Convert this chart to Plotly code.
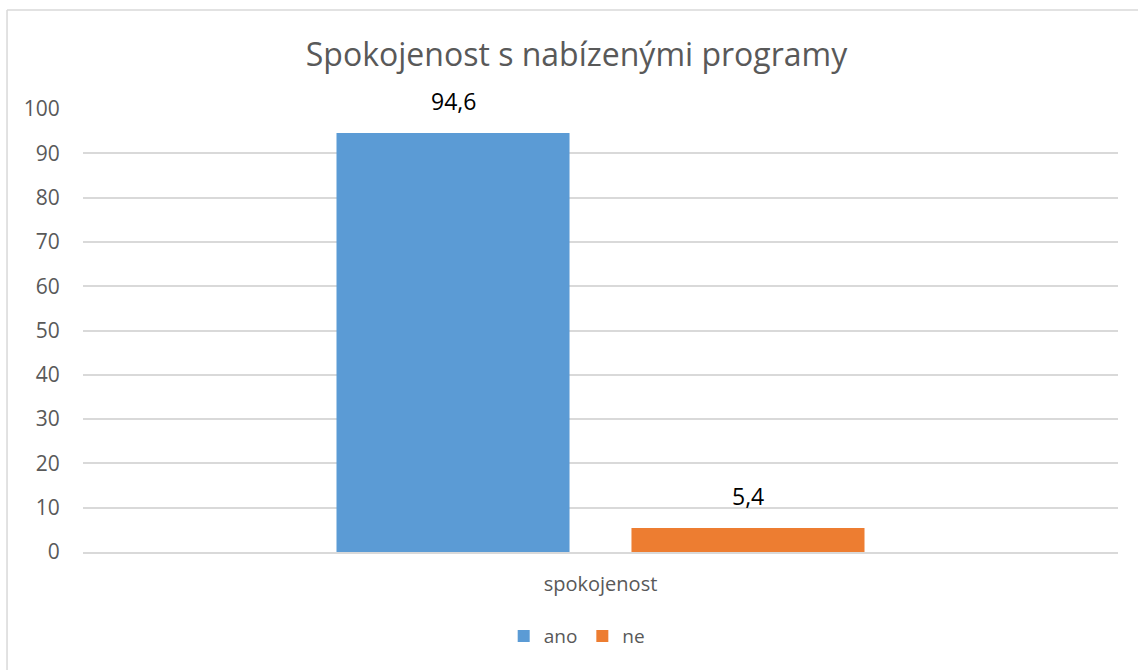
import plotly.graph_objects as go

categories = ["spokojenost"]
series_names = ["ano", "ne"]
ano_values = [94.6]
ne_values = [5.4]
colors = ["#5B9BD5", "#ED7D31"]
title_text = "Spokojenost s nabízenými programy"
y_ticks = list(range(0, 101, 10))

FONT = "Open Sans, Liberation Sans, sans-serif"
W, H = 1138, 670
ML, MR, MT, MB = 83, 20, 109, 118
BARGAP, GROUPGAP = 0.43, 0.21
plot_w = W - ML - MR
slot_px = (1 - BARGAP) * plot_w / 2

fig = go.Figure()
series = [ano_values, ne_values]
for i, (name, vals, col) in enumerate(zip(series_names, series, colors)):
    fig.add_trace(go.Bar(
        name=name, x=categories, y=vals, marker=dict(color=col, line=dict(width=0)),
    ))
    shift = (i - (len(series) - 1) / 2) * slot_px
    for c, v in zip(categories, vals):
        fig.add_annotation(x=c, y=v, text=f"{v:.1f}".replace(".", ","), showarrow=False,
                           xshift=shift, yshift=14, yanchor="bottom",
                           font=dict(family=FONT, size=23, color="#000000"))

border = dict(color="#D9D9D9", width=1.5)
fig.update_layout(
    width=W, height=H,
    margin=dict(l=ML, r=MR, t=MT, b=MB),
    paper_bgcolor="white", plot_bgcolor="white",
    separators=", ",
    barmode="group", bargap=BARGAP, bargroupgap=GROUPGAP,
    title=dict(text=title_text, x=0.5066, xanchor="center", y=0.918, yanchor="middle",
               font=dict(family=FONT, size=32, color="#595959")),
    font=dict(family=FONT, color="#595959"),
    showlegend=True,
    legend=dict(orientation="h", x=0.477, xanchor="center", y=-0.19, yanchor="middle",
                font=dict(family=FONT, size=19, color="#595959"), itemwidth=30,
                traceorder="normal"),
    shapes=[
        dict(type="line", xref="paper", yref="paper", x0=-0.0734, x1=1.1, y0=1.2235, y1=1.2235,
             line=border, layer="below"),
        dict(type="line", xref="paper", yref="paper", x0=-0.0734, x1=-0.0734, y0=-0.4, y1=1.2235,
             line=border, layer="below"),
    ],
)
fig.update_yaxes(range=[0, 100], tickvals=y_ticks, showgrid=True, gridcolor="#D9D9D9", gridwidth=1.5,
                 zeroline=False, showline=False, ticks="outside", ticklen=18, tickcolor="rgba(0,0,0,0)",
                 tickfont=dict(family=FONT, size=21, color="#595959"), fixedrange=True)
fig.update_xaxes(showgrid=False, showline=True, linecolor="#D9D9D9", linewidth=1.5,
                 ticks="outside", ticklen=13, tickcolor="rgba(0,0,0,0)",
                 tickfont=dict(family=FONT, size=20, color="#595959"), fixedrange=True)

fig.write_html("out.html", config={"displayModeBar": False},
               post_script="document.body.style.margin='0';document.body.style.overflow='hidden';")
